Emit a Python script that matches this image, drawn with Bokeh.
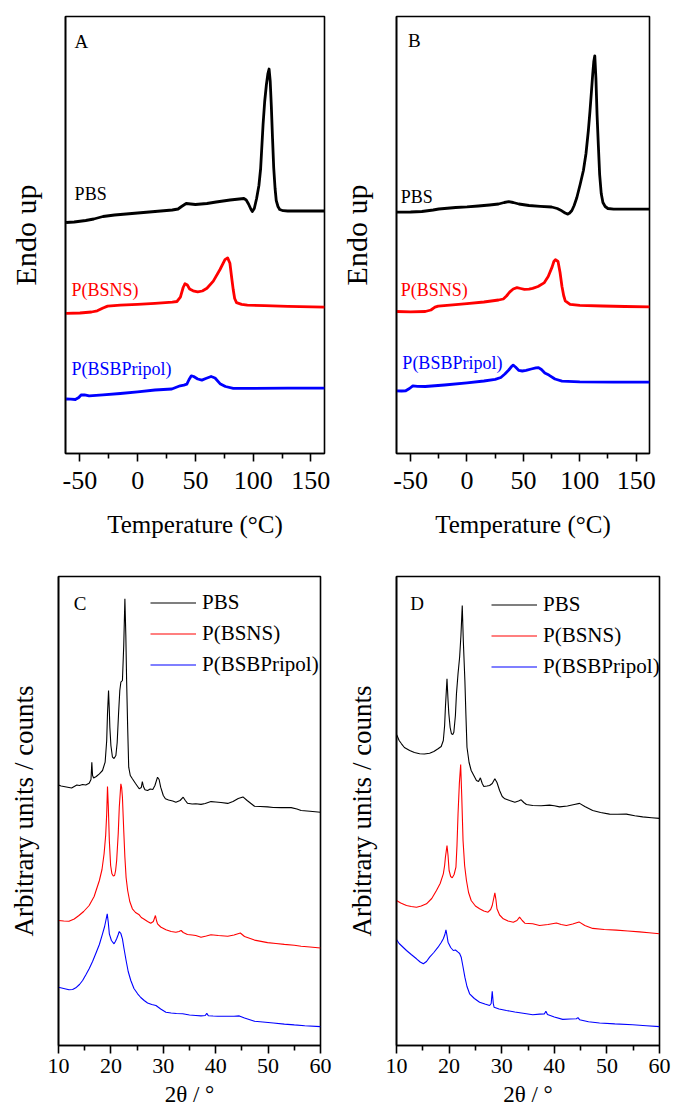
from bokeh.plotting import figure
from bokeh.models import Range1d, FixedTicker, Label, Legend, LegendItem, NumeralTickFormatter
from bokeh.layouts import column, row
from bokeh.embed import file_html
from bokeh.resources import INLINE

FONT = "Liberation Serif"

# ---------------- DSC data (heat flow, arbitrary units, endo up) ----------------
dsc_a_pbs_t = [-62, -55, -45, -38, -30, -20, -10, 0, 10, 20, 30, 35, 38, 42, 46, 50, 55, 60, 68, 80, 88, 92, 94, 96, 98, 99.3, 101, 103, 105, 106.5, 108.6, 110, 111.5, 112.8, 113.8, 114.8, 115.8, 116.8, 117.8, 119, 120, 121.5, 123, 126, 130, 140, 150, 162]
dsc_a_pbs_h = [231, 231.5, 233, 234.5, 237, 238.5, 239.5, 240.5, 241.5, 242.5, 243.5, 244.5, 247, 250, 249.5, 249, 249.5, 250, 251.5, 253.5, 254.5, 255, 253.5, 249.5, 244.5, 242, 245, 255, 268, 285, 329, 352, 369, 380, 384.5, 372, 346, 315, 286, 265, 253, 247, 244, 242.8, 242.5, 242.5, 242.5, 242.5]

dsc_a_bsns_t = [-62, -50, -40, -35, -30, -26, -15, 0, 15, 30, 34, 37, 39.4, 41, 43, 45, 48, 52, 56, 60, 65.5, 71.3, 75.6, 77.9, 79.9, 81.5, 82.8, 84, 85.6, 90, 95, 110, 130, 162]
dsc_a_bsns_h = [140.2, 140.5, 141.5, 142.7, 145.5, 147.4, 148.3, 149.1, 150.2, 151.3, 152, 156.3, 166, 169.8, 168.5, 164.5, 162.7, 161.6, 162.5, 165.2, 172.4, 184, 193.8, 195.6, 190.2, 175, 163.4, 155, 150.9, 149.2, 148.4, 147.8, 147.2, 146.3]

dsc_a_bsbp_t = [-62, -58, -54, -51, -49, -46, -42, -30, -15, 0, 15, 29.6, 36.8, 40, 42.6, 44.5, 46.5, 48.5, 52, 55.6, 59, 63.6, 67, 71.3, 76, 82.8, 100, 130, 162]
dsc_a_bsbp_h = [54.5, 54.3, 54, 56, 58.5, 58.7, 57.7, 58.6, 60, 61.6, 63.5, 64.5, 67.7, 68.4, 69.4, 74, 77.7, 77, 74.5, 73.4, 75, 77, 75.5, 69.8, 67, 65.2, 65.2, 65.3, 65.3]

dsc_b_pbs_t = [-63, -50, -40, -30, -25, -10, 0, 10, 20, 28, 33, 37, 41, 46, 55, 65, 75, 80, 84, 87, 89.4, 91, 93, 95, 97.4, 100.3, 103.2, 105.5, 107.6, 109, 110.4, 111.5, 112.4, 113.3, 114.3, 115.3, 116.5, 117.6, 119, 120.5, 122.5, 124.9, 130, 140, 162]
dsc_b_pbs_h = [241.3, 241.5, 242, 243.5, 244.5, 246, 246.6, 247.5, 248.5, 249.5, 251, 251.8, 251, 249.5, 248, 247.2, 246.5, 245, 242.7, 240.5, 239.4, 240.5, 243, 248, 256, 269, 283, 300, 323, 342, 363, 380, 392, 397.7, 375, 339, 307, 279, 260, 251, 247, 245, 244.4, 244.4, 244.4]

dsc_b_bsns_t = [-63, -50, -37, -32, -28.4, -25.5, -10, 0, 15, 28, 32.2, 35, 38, 41, 44.3, 47.5, 50.9, 55, 58.2, 63, 68.3, 72, 75.5, 77, 78.4, 80.7, 82.5, 84.2, 85.7, 87.1, 91.4, 100, 120, 140, 162]
dsc_b_bsns_h = [142, 141.7, 142, 143.5, 146.3, 147.4, 148.8, 149.8, 151.5, 153.5, 154.5, 157.5, 161.6, 164.5, 165.9, 165, 164.1, 164.3, 165.2, 167, 170.6, 177, 186.6, 192, 193.8, 192, 181, 167, 158, 152.7, 149.1, 148.2, 147.5, 147, 146.6]

dsc_b_bsbp_t = [-63, -58, -54.3, -51, -48, -44, -37, -20, 0, 15, 25, 30, 33.6, 37, 39.5, 40.9, 43, 46, 49, 52.4, 57, 61, 63.4, 66, 69, 72.6, 78, 84.2, 100, 130, 162]
dsc_b_bsbp_h = [62.7, 62.5, 62.7, 65, 67.7, 67.2, 67, 68.5, 70.6, 72.5, 74.1, 76, 79.5, 83.5, 87, 88.4, 86.5, 83.1, 82.5, 83.1, 84.5, 85.6, 85.9, 84, 80.5, 78.4, 74.5, 72.4, 71.6, 71.4, 71.3]

# ---------------- XRD data (2theta, counts in arbitrary units) ----------------
xrd_c_pbs_x = [10.0, 10.5, 11.0, 11.5, 12.0, 12.5, 13.0, 13.5, 14.0, 14.6, 15.2, 15.85, 16.2, 16.36, 16.5, 16.7, 17.2, 17.8, 18.4, 18.9, 19.2, 19.35, 19.55, 19.7, 19.8, 20.0, 20.3, 20.6, 20.95, 21.2, 21.46, 21.7, 21.9, 22.2, 22.45, 22.67, 22.85, 23.0, 23.2, 23.4, 23.7, 24.1, 24.7, 25.4, 25.8, 26.0, 26.2, 26.5, 27.0, 27.5, 28.0, 28.4, 28.9, 29.2, 29.5, 30.0, 30.4, 31.0, 31.8, 32.4, 33.2, 33.8, 34.2, 34.6, 35.5, 36.2, 37.2, 38.0, 39.1, 40.0, 41.0, 42.3, 43.3, 44.3, 45.2, 46.0, 47.4, 48.5, 49.9, 51.0, 52.5, 54.4, 55.5, 56.3, 58.0, 60.0]
xrd_c_pbs_y = [260.5, 259.5, 259, 258.5, 258, 257.5, 259, 260.5, 260, 261, 260.5, 262.3, 266, 283.3, 270, 267.5, 269, 271.7, 275, 283.3, 305, 331.7, 355, 335, 318.3, 300, 288.3, 287, 290, 303, 331.7, 355, 363.3, 365, 400, 446.7, 410, 365, 318, 278.3, 270, 266.7, 262, 256.7, 258, 264, 259, 255.7, 255, 256.5, 256, 260, 268.3, 266, 258.3, 250, 246.7, 245.5, 244.5, 243.3, 245, 248.3, 245, 242.3, 241.5, 241.7, 241.1, 242, 243.9, 243.5, 243, 242.1, 244, 247, 248.6, 245, 239.3, 239, 238.6, 238, 237.9, 237.9, 236.5, 235, 234.2, 233.2]

xrd_c_bsns_x = [10.0, 11.0, 12.0, 13.0, 13.9, 14.8, 15.85, 16.8, 17.8, 18.3, 18.7, 19.0, 19.2, 19.35, 19.5, 19.7, 19.95, 20.2, 20.45, 20.7, 20.9, 21.1, 21.4, 21.6, 21.9, 22.05, 22.2, 22.45, 22.67, 22.9, 23.2, 23.6, 24.1, 24.7, 25.4, 25.8, 26.2, 27.0, 27.6, 28.1, 28.5, 28.7, 28.9, 29.5, 30.5, 31.5, 32.4, 33.0, 33.4, 33.8, 34.6, 35.5, 36.2, 37.2, 38.2, 39.1, 40.5, 42.3, 43.5, 44.7, 45.5, 47.4, 49.9, 51.5, 53.1, 55.0, 56.3, 58.0, 60.0]
xrd_c_bsns_y = [125, 124.5, 124.3, 126.5, 130, 134, 140, 149, 165, 176, 191.7, 210, 231.7, 259, 240, 205, 180, 171.7, 169.5, 170, 175, 185, 212, 238.3, 261.7, 258, 248.3, 215, 188.3, 168, 155, 144, 136.7, 133, 130.7, 128, 126.7, 124, 122.3, 124, 130, 125, 121.7, 118.5, 115.7, 114, 113.3, 114, 115, 113, 111, 110.5, 110, 108.2, 109.5, 110.7, 110, 109.3, 110.5, 112.5, 109, 105.4, 102.9, 102, 101.1, 100.3, 99.3, 98.5, 97.5]

xrd_c_bsbp_x = [10.0, 11.0, 12.0, 12.7, 13.3, 14.0, 14.6, 15.2, 15.85, 16.5, 17.1, 17.8, 18.4, 18.8, 19.04, 19.3, 19.5, 19.7, 20.1, 20.6, 20.85, 21.1, 21.4, 21.6, 21.9, 22.2, 22.5, 22.9, 23.3, 23.8, 24.4, 25.1, 25.7, 26.35, 27.0, 27.8, 28.6, 29.5, 30.5, 31.5, 32.5, 33.7, 35.0, 36.2, 37.2, 38.0, 38.3, 38.6, 39.5, 40.4, 42.0, 43.5, 44.5, 45.5, 47.4, 49.0, 51.0, 53.1, 55.0, 57.0, 60.0]
xrd_c_bsbp_y = [58.3, 57, 55.7, 56, 57.7, 61, 65, 70.5, 76.7, 84, 91.7, 101, 111.7, 119, 125, 131.7, 123, 111.7, 105, 101.7, 104, 106.7, 111, 114, 112, 106.7, 97, 85, 74, 65, 57, 51.7, 48, 45, 42.5, 41, 40, 36.5, 33.3, 32.5, 32, 31.7, 30.5, 30, 29.6, 30, 32.1, 29.8, 29.5, 29.3, 29.2, 29.2, 29.6, 27.5, 24.3, 23.5, 22.5, 21.4, 20.6, 19.8, 18.9]

xrd_d_pbs_x = [10.0, 10.1, 10.5, 10.95, 11.5, 12.5, 13.4, 14.4, 15.3, 16.3, 17.1, 17.9, 18.5, 18.9, 19.15, 19.3, 19.6, 19.8, 19.95, 20.2, 20.45, 20.7, 20.9, 21.2, 21.4, 21.7, 22.0, 22.25, 22.5, 22.7, 23.0, 23.2, 23.4, 23.8, 24.2, 24.7, 25.2, 25.6, 25.95, 26.3, 26.6, 27.2, 27.7, 28.2, 28.7, 29.1, 29.6, 30.1, 30.6, 31.5, 32.5, 33.2, 33.7, 34.2, 34.7, 35.9, 37.5, 39.1, 40.0, 41.0, 42.5, 43.8, 44.8, 45.8, 47.3, 48.8, 50.5, 52.0, 53.7, 55.3, 56.8, 58.5, 60.0]
xrd_d_pbs_y = [311, 310, 305, 301.7, 298, 295, 293, 291.7, 291.5, 292.3, 294, 296.7, 299, 305, 320, 338.3, 366.7, 345, 331.7, 318, 311.7, 311, 313.3, 330, 351.7, 372, 388.3, 410, 440, 405, 365, 330, 298.3, 283, 275, 270, 265, 264, 267.7, 262, 259, 259.5, 260, 262, 266.7, 263, 255, 249, 246.7, 245, 243.3, 244.5, 245.7, 243, 241, 240, 239.8, 240.4, 239.8, 238.6, 239.5, 241, 242.1, 239, 235, 233, 231.4, 231.2, 231.4, 229.8, 228.6, 227.8, 227.1]

xrd_d_bsns_x = [10.0, 10.8, 11.9, 12.8, 13.8, 14.7, 15.7, 16.7, 17.6, 18.3, 18.9, 19.15, 19.3, 19.6, 19.8, 20.0, 20.3, 20.6, 20.95, 21.3, 21.5, 21.7, 21.95, 22.2, 22.4, 22.65, 22.95, 23.3, 23.7, 24.2, 25.0, 25.8, 26.6, 27.4, 27.9, 28.2, 28.7, 28.9, 29.1, 29.6, 30.3, 31.2, 32.2, 32.9, 33.4, 33.9, 34.4, 35.9, 37.2, 38.8, 40.4, 41.3, 42.3, 43.5, 44.7, 45.8, 47.3, 49.5, 51.8, 54.0, 56.2, 58.0, 60.0]
xrd_d_bsns_y = [145, 142.5, 140, 139, 138.3, 139.5, 141.7, 147, 155, 162, 171.7, 180, 188.3, 200, 190, 175, 169, 167.7, 171, 178.3, 200, 231.7, 262, 281, 250, 205, 180, 165, 153, 145, 139.5, 136.7, 134.5, 133.3, 136, 140, 152.7, 146, 136.7, 130.5, 126.7, 124.5, 123.3, 125, 128.3, 125, 122.3, 121.7, 120, 121, 122.5, 121, 120, 121.5, 123.6, 120, 117.1, 116, 115.4, 114.5, 113.6, 112.8, 111.8]

xrd_d_bsbp_x = [10.0, 10.5, 11.0, 11.9, 12.8, 13.8, 14.5, 15.1, 15.7, 16.3, 17.1, 17.9, 18.5, 18.9, 19.2, 19.4, 19.6, 19.8, 20.3, 20.8, 21.2, 21.7, 22.0, 22.3, 22.6, 23.0, 23.4, 23.9, 24.8, 25.8, 26.8, 27.7, 28.0, 28.2, 28.4, 28.55, 29.5, 30.9, 32.5, 34.7, 35.9, 37.2, 38.1, 38.4, 38.7, 40.0, 41.6, 43.0, 44.2, 44.5, 44.8, 46.5, 48.6, 51.5, 54.9, 57.5, 60.0]
xrd_d_bsbp_y = [106, 102, 99.5, 95, 91, 86.7, 83.5, 81.7, 84, 88.3, 93, 98.3, 103, 106.7, 111, 115.7, 110, 103.3, 98, 95, 95.5, 93.3, 92, 88.3, 80, 68.3, 59, 51.7, 47, 43.3, 41.5, 40, 42, 54.3, 42, 38.3, 36.5, 35, 33.5, 31.7, 30.7, 31.4, 31.5, 34.3, 31, 28.5, 26.1, 26.5, 26.8, 27.9, 25.8, 23.8, 22.5, 21.6, 20.7, 19.8, 18.9]

series_names = ["PBS", "P(BSNS)", "P(BSBPripol)"]
series_colors = ["#000000", "#ff0000", "#0000ff"]

dsc_ticks = [-50, 0, 50, 100, 150]
dsc_minor = [-25, 25, 75, 125]
xrd_ticks = [10, 20, 30, 40, 50, 60]
xrd_minor = [15, 25, 35, 45, 55]


def base_fig(width, height, xr, yr, bl, br, bt, bb, xticks, xminor, xlabel, ylabel,
             tick_fs, title_fs, ylab_fs, lab_standoff, title_standoff, ylab_standoff):
    p = figure(width=width, height=height, x_range=Range1d(*xr), y_range=Range1d(*yr),
               output_backend="svg", toolbar_location=None,
               min_border_left=bl, min_border_right=br, min_border_top=bt, min_border_bottom=bb)
    p.xgrid.visible = False
    p.ygrid.visible = False
    p.outline_line_color = "black"
    p.outline_line_width = 1.6
    p.outline_line_alpha = 1.0
    p.background_fill_color = "white"
    p.border_fill_color = "white"
    xa = p.xaxis[0]
    xa.ticker = FixedTicker(ticks=xticks, minor_ticks=xminor)
    xa.formatter = NumeralTickFormatter(format="0")
    xa.major_tick_out = 8
    xa.major_tick_in = 0
    xa.minor_tick_out = 5
    xa.minor_tick_in = 0
    xa.axis_line_width = 1.6
    xa.axis_line_color = "black"
    xa.major_tick_line_color = "black"
    xa.minor_tick_line_color = "black"
    xa.major_tick_line_width = 1.6
    xa.minor_tick_line_width = 1.6
    xa.major_label_text_font = FONT
    xa.major_label_text_font_size = tick_fs
    xa.major_label_text_color = "black"
    xa.major_label_standoff = lab_standoff
    xa.axis_label = xlabel
    xa.axis_label_text_font = FONT
    xa.axis_label_text_color = "black"
    xa.axis_label_text_font_style = "normal"
    xa.axis_label_text_font_size = title_fs
    xa.axis_label_standoff = title_standoff
    ya = p.yaxis[0]
    ya.ticker = FixedTicker(ticks=[], minor_ticks=[])
    ya.major_tick_out = 0
    ya.major_tick_in = 0
    ya.minor_tick_out = 0
    ya.minor_tick_in = 0
    ya.major_label_standoff = 0
    ya.major_label_text_font_size = "0px"
    ya.axis_line_width = 1.6
    ya.axis_line_color = "black"
    ya.axis_label = ylabel
    ya.axis_label_text_font = FONT
    ya.axis_label_text_color = "black"
    ya.axis_label_text_font_style = "normal"
    ya.axis_label_text_font_size = ylab_fs
    ya.axis_label_standoff = ylab_standoff
    return p


def add_text(p, x, y, text, color, size):
    p.add_layout(Label(x=x, y=y, text=text, text_color=color, text_font=FONT,
                       text_font_size=size, text_baseline="middle", text_align="left"))


DSC_Y = (0, 437)
DSC_X = (-62.5, 161.8)
XRD_Y = (0, 469)
XRD_X = (10, 60)

# ---------- Panel A ----------
pA = base_fig(336, 560, DSC_X, DSC_Y, 65, 12, 16, 107, dsc_ticks, dsc_minor,
              "Temperature (°C)", "Endo up", "26px", "25px", "30px", 10, 19, 24)
for t, h, c in zip([dsc_a_pbs_t, dsc_a_bsns_t, dsc_a_bsbp_t],
                   [dsc_a_pbs_h, dsc_a_bsns_h, dsc_a_bsbp_h], series_colors):
    pA.line(t, h, line_color=c, line_width=2.8, line_join="round")
add_text(pA, -54.6, 411.7, "A", "black", "19px")
add_text(pA, -54.6, 259.7, series_names[0], series_colors[0], "18px")
add_text(pA, -57.4, 163.7, series_names[1], series_colors[1], "18px")
add_text(pA, -57.4, 84.7, series_names[2], series_colors[2], "18px")

# ---------- Panel B ----------
pB = base_fig(329, 560, DSC_X, DSC_Y, 53, 16, 16, 107, dsc_ticks, dsc_minor,
              "Temperature (°C)", "Endo up", "26px", "25px", "30px", 10, 19, 24)
for t, h, c in zip([dsc_b_pbs_t, dsc_b_bsns_t, dsc_b_bsbp_t],
                   [dsc_b_pbs_h, dsc_b_bsns_h, dsc_b_bsbp_h], series_colors):
    pB.line(t, h, line_color=c, line_width=2.8, line_join="round")
add_text(pB, -52.3, 412.7, "B", "black", "19px")
add_text(pB, -58.7, 256.7, series_names[0], series_colors[0], "18px")
add_text(pB, -58.7, 163.7, series_names[1], series_colors[1], "18px")
add_text(pB, -57.3, 90.2, series_names[2], series_colors[2], "18px")


def xrd_panel(width, bl, br, xs, ys, legend_loc):
    p = base_fig(width, 558, XRD_X, XRD_Y, bl, br, 16, 73, xrd_ticks, xrd_minor,
                 "2θ / °", "Arbitrary units / counts", "22px", "23px", "27px", 5, 6, 20)
    items = []
    for x, y, c, n in zip(xs, ys, series_colors, series_names):
        r = p.line(x, y, line_color=c, line_width=1.1)
        items.append(LegendItem(label=n, renderers=[r]))
    leg = Legend(items=items, location=legend_loc, border_line_color=None,
                 background_fill_alpha=0, label_text_font=FONT, label_text_font_size="21px",
                 label_text_color="black",
                 glyph_width=46, glyph_height=29, label_height=29, spacing=2,
                 padding=0, margin=0, label_standoff=6)
    p.add_layout(leg)
    return p


pC = xrd_panel(336, 58, 16, [xrd_c_pbs_x, xrd_c_bsns_x, xrd_c_bsbp_x],
               [xrd_c_pbs_y, xrd_c_bsns_y, xrd_c_bsbp_y], (92, 366))
add_text(pC, 12.9, 442, "C", "black", "19px")

pD = xrd_panel(335, 60, 12, [xrd_d_pbs_x, xrd_d_bsns_x, xrd_d_bsbp_x],
               [xrd_d_pbs_y, xrd_d_bsns_y, xrd_d_bsbp_y], (95, 364))
add_text(pD, 12.6, 442, "D", "black", "19px")

layout = column(row(pA, pB), row(pC, pD))
open("out.html", "w").write(file_html(layout, INLINE))
